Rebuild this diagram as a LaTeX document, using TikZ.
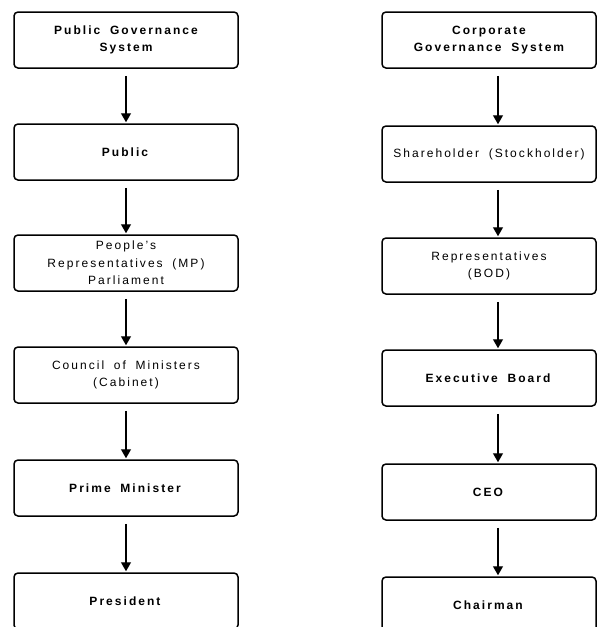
\documentclass[tikz,border=0pt]{standalone}
\usepackage{fontspec}
\setmainfont[LetterSpace=17, WordSpace=1.8]{Liberation Sans}
\usetikzlibrary{arrows.meta}

\begin{document}
\begin{tikzpicture}[x=1pt, y=-1pt, line width=1.5pt, font=\fontsize{12}{17.5}\selectfont,
  govbox/.style={draw, rounded corners=4, align=center, minimum height=56, inner sep=2},
  pubbox/.style={govbox, minimum width=224},
  corpbox/.style={govbox, minimum width=214},
  flow/.style={-{Triangle[width=10pt,length=9pt]}, line width=1.3pt, shorten <=7pt, shorten >=1pt}]
\useasboundingbox (0,0) rectangle (599,627);
\clip (0,0) rectangle (599,627);
% Left column -- public governance
\node[pubbox, font=\fontsize{12}{17.5}\selectfont\bfseries] (pubsys) at (126,40) {Public Governance\\System};
\node[pubbox] (public) at (126,152) {\textbf{Public}};
\node[pubbox] (mp) at (126,263) {People's\\Representatives (MP)\\Parliament};
\node[pubbox] (cabinet) at (126,375) {Council of Ministers\\(Cabinet)};
\node[pubbox] (pm) at (126,488) {\textbf{Prime Minister}};
\node[pubbox] (president) at (126,601) {\textbf{President}};
\draw[flow] (pubsys) -- (public);
\draw[flow] (public) -- (mp);
\draw[flow] (mp) -- (cabinet);
\draw[flow] (cabinet) -- (pm);
\draw[flow] (pm) -- (president);
% Right column -- corporate governance, arrows sit a little right of the box centres
\node[corpbox, font=\fontsize{12}{17.5}\selectfont\bfseries] (corpsys) at (489,40) {Corporate\\Governance System};
\node[corpbox] (holder) at (489,154) {Shareholder (Stockholder)};
\node[corpbox] (bod) at (489,266) {Representatives\\(BOD)};
\node[corpbox] (exec) at (489,378) {\textbf{Executive Board}};
\node[corpbox] (ceo) at (489,492) {\textbf{CEO}};
\node[corpbox] (chair) at (489,605) {\textbf{Chairman}};
\draw[flow] ([xshift=9]corpsys.south) -- ([xshift=9]holder.north);
\draw[flow] ([xshift=9]holder.south) -- ([xshift=9]bod.north);
\draw[flow] ([xshift=9]bod.south) -- ([xshift=9]exec.north);
\draw[flow] ([xshift=9]exec.south) -- ([xshift=9]ceo.north);
\draw[flow] ([xshift=9]ceo.south) -- ([xshift=9]chair.north);
\end{tikzpicture}
\end{document}
